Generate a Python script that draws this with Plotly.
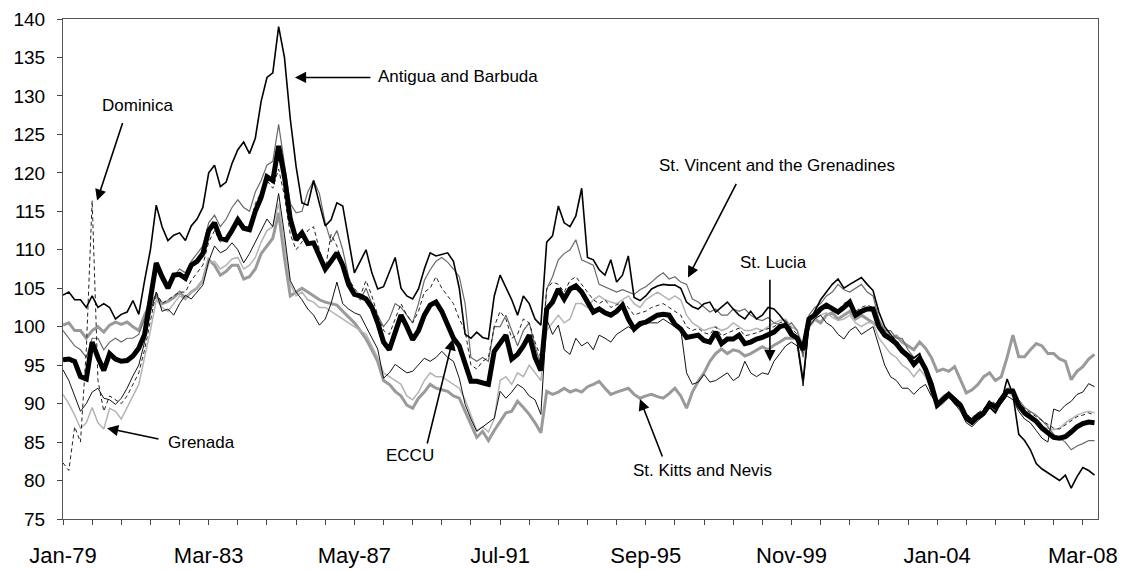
import plotly.graph_objects as go

# month offsets from Jan-79 (bimonthly observations)
months = list(range(0, 356, 2))
tick_months = [0, 50, 100, 150, 200, 250, 300, 350]
tick_labels = ["Jan-79", "Mar-83", "May-87", "Jul-91", "Sep-95", "Nov-99", "Jan-04", "Mar-08"]

eccu = [95.7, 95.8, 95.5, 93.5, 93.2, 98, 96, 94.3, 96.5, 95.8, 95.5, 95.6, 96.2, 97.2, 99, 104, 108.3, 106.5, 105, 106.7, 106.8, 106.3, 108, 108.5, 109.5,
        112.5, 113.5, 111.5, 111.3, 112.5, 113.9, 112.8, 112.6, 115, 116.8, 119.5, 119, 123.5, 119.5, 114, 111.3, 112.2, 110.8, 110.9, 109, 107.5, 108.5, 109.6, 108, 105.5,
        104.2, 104, 103.6, 102.5, 100.5, 98, 97, 99.5, 101.5, 100, 98.3, 99.5, 101.5, 102.8, 103.2, 102, 100.2, 98.5, 97.5, 95, 92.9, 92.9, 92.7, 92.5, 96.8,
        98, 98.9, 95.8, 96.4, 97.5, 98.9, 96, 94.3, 102.3, 103.2, 104.9, 103.6, 104.9, 105.3, 104.5, 103.2, 101.9, 102.3, 101.8, 101.5, 102, 102.8, 101, 99.7, 100.4,
        100.6, 101, 101.5, 101.6, 101.5, 100.3, 99.7, 98.6, 98.7, 98.9, 98.2, 98, 99.3, 97.8, 98.4, 98.4, 98.9, 97.8, 98, 98.4, 98.6, 99, 99.3, 100, 100.2,
        99, 98.5, 97, 101, 101.5, 102.3, 102.8, 102.3, 101.9, 102.5, 103.2, 101.5, 102, 102.3, 102.3, 100, 98.9, 98.4, 97.8, 96.8, 96.2, 95.1, 95.9, 94.5, 92.5,
        89.8, 90.6, 91.2, 90.5, 89.8, 88.2, 87.7, 88.4, 88.8, 90, 89.5, 90.5, 91.6, 91.6, 89.8, 88.8, 88.3, 87.7, 86.8, 86.2, 85.6, 85.5, 85.7, 86.3, 87,
        87.4, 87.6, 87.5]

antigua = [104.1, 104.5, 103.5, 103.5, 102.5, 104, 102.5, 103, 102.5, 101, 101.6, 101.9, 103.4, 101.6, 106, 110, 115.8, 113, 111.2, 111.9, 112.2, 111.2, 113.1, 114, 115.5,
           120, 121, 118.2, 118.8, 121.2, 123, 124, 122.5, 124.5, 129.3, 132.4, 133, 139, 135, 127, 120.8, 116.1, 115.8, 119, 116, 113.1, 113.9, 116.1, 115.7, 111.5,
           107, 108.5, 110, 107, 104.9, 105.2, 107, 109, 105, 104, 103.6, 104.9, 107.5, 109.6, 109.2, 109.4, 109.6, 108.5, 105, 99, 98.5, 99.3, 98.6, 98.4, 104,
           106.7, 105, 103.5, 101.5, 104, 103, 101, 100.2, 111, 111.8, 115.7, 113.5, 113, 114.4, 118, 109, 108.7, 107.4, 106.7, 108.7, 105.8, 106.7, 109.2, 103.8, 103.4,
           104, 104.9, 105.3, 105.5, 105.4, 105.4, 105, 103.2, 102.6, 102.3, 103, 103.2, 101.9, 102.5, 103.2, 102.3, 101.5, 101, 102, 101, 101.5, 102.5, 102.3, 101.5, 100.5,
           99.5, 98, 93, 100.5, 102, 103.5, 104.5, 105.5, 106.2, 105, 105.5, 106, 106.4, 105.5, 104.7, 101.9, 100, 99, 98, 97.1, 96.5, 95.9, 96.5, 94, 91.5,
           89.5, 90.5, 91, 90, 89.5, 87.8, 87.3, 88, 88.5, 89.5, 88.8, 90.2, 93.2, 91.2, 86, 85.2, 84, 82.2, 81.5, 81, 80.4, 80, 80.7, 79, 80.5,
           81.7, 81.3, 80.7]

dominica = [82.3, 81.3, 87, 85, 97, 116.4, 93, 89, 91, 90.5, 90, 91, 92.5, 94, 97, 101, 104.5, 103, 103.5, 104, 104.5, 104.5, 106, 107, 108,
            111, 112.5, 111, 111.5, 113, 114, 113, 113, 116, 117.5, 119, 118, 120.5, 117, 112, 110, 111, 112.5, 113, 110, 107.5, 112, 110.5, 108, 106.2,
            105, 104, 106, 104, 101.5, 99.5, 99, 101, 103, 101.5, 100.5, 102, 104.5, 105, 106.5, 105, 104, 103, 101, 99.5, 95, 94.5, 95.5, 96, 100,
            102, 101, 98.5, 99, 101, 100.5, 98, 96, 104.9, 105.8, 105.5, 104.5, 106, 106.5, 105.5, 104.5, 103.5, 103, 103.5, 102.5, 102.8, 103.2, 102.5, 101.5, 101.8,
            102, 102.5, 102.8, 103, 102.5, 102, 101.5, 100, 99.5, 99.8, 99.2, 99, 100, 98.8, 99.2, 99.5, 99.8, 98.8, 99, 99.2, 99.5, 99.8, 100, 100.5, 100.8,
            99.8, 99, 96.5, 101.2, 101.8, 102.5, 103, 102.5, 102.2, 103, 103.5, 102, 102.5, 102.8, 102.5, 100.5, 99.2, 98.8, 98, 97.2, 96.5, 95.5, 96, 94.8, 92.8,
            90, 90.8, 91.4, 90.8, 90.2, 88.6, 88.2, 88.8, 89.3, 90.4, 90, 91, 92, 92, 90.2, 89.3, 88.8, 88.3, 87.8, 87.3, 86.8, 86.7, 87.2, 87.8, 88.3,
            88.5, 88.8, 88.5]

grenada = [91.2, 90, 88.5, 86.8, 87.5, 89.5, 87.5, 86.7, 89.4, 89, 88, 89.5, 91, 92.5, 96, 99.5, 103.5, 102.5, 102, 103, 104, 103.5, 104.5, 105, 106,
           108.3, 108.5, 107.5, 108, 108.8, 109, 107.5, 108, 109, 111, 112.5, 113, 116, 111, 105.5, 104, 104.5, 103.5, 103.2, 102.5, 102.5, 102, 101.5, 101, 100.5,
           100, 99.5, 99, 97.5, 96, 94, 93.5, 93, 92.5, 91, 90.5, 91.5, 93, 94, 93.5, 93.5, 93, 92.5, 92, 90.5, 88.5, 86.5, 87, 86.3, 88,
           93, 93.5, 92.5, 94, 93.5, 95, 94, 93, 99.5, 100.5, 101.5, 100.5, 101, 103, 103, 102.5, 103.5, 104, 103.5, 103.2, 103, 103.5, 104, 103, 102.5,
           103.5, 104, 104.5, 104, 103.5, 104, 103.5, 101.5, 100.5, 100, 99.5, 99.8, 100, 99.5, 99.8, 100.5, 100, 99.5, 99.5, 99.8, 99.5, 100, 100.5, 100.8, 101,
           100, 99.5, 97.5, 100.5, 101, 101.5, 101.8, 101.2, 100.8, 101, 101.5, 100.5, 100, 100.5, 100.5, 98.5, 97.5, 96.5, 96, 95, 94.5, 93.5, 94.5, 93.5, 91.5,
           89.5, 90, 90.8, 90.2, 89.3, 88, 87.5, 88.2, 88.6, 89.8, 89.2, 90.3, 91.5, 91, 89.5, 88.5, 88, 87.5, 87, 86.8, 86.6, 86.8, 87.5, 88, 88.5,
           88.8, 89, 88.8]

st_kitts = [100.2, 100.5, 99.5, 99.5, 98.5, 99.5, 100, 99.3, 100.2, 100.6, 100.3, 100.6, 100, 99.5, 101.5, 103, 104, 103, 103.3, 103.8, 104.5, 103.7, 104.5, 105, 106,
            108.7, 108, 106.7, 107.2, 108, 108, 106.2, 106.5, 107.5, 109.5, 110.5, 111.5, 114.8, 109, 104, 104.5, 105, 104.5, 104, 103.5, 103.2, 103, 102.8, 102, 101.3,
            100.5, 99.5, 98.4, 97, 95.5, 93, 92.5, 91.6, 91, 89.8, 89.4, 90.7, 91.5, 92.5, 92, 91.8, 91.6, 91, 90.7, 89, 87.4, 85.6, 86.4, 85.2, 86.5,
            87.7, 88.8, 89, 90.3, 89.5, 88.6, 87.5, 86.2, 91.6, 91.2, 91.5, 92, 91.5, 91.8, 91.5, 92.2, 92.5, 92.9, 92, 91.2, 91.5, 91.8, 92, 91.2, 90.7,
            91, 91.2, 90.9, 90.7, 91.3, 92, 91, 89.4, 91.5, 92.9, 94, 95.5, 96.5, 97.1, 96.5, 97, 96.8, 96.2, 96.5, 97, 97.4, 97, 97.6, 98, 98.5,
            98.5, 98.5, 97.5, 100, 101, 100.5, 101.5, 101.8, 101, 101.5, 102, 101, 101.5, 101, 100.5, 100, 99.5, 98.5, 98.8, 98, 97.5, 97, 98, 97.2, 96,
            94.2, 94.5, 94.2, 94.8, 93, 91.4, 91.8, 92.5, 93.5, 94, 93, 93.5, 96, 98.9, 96.1, 96.1, 97, 97.8, 97.5, 96.5, 96.5, 95.8, 95.5, 93.1, 94.2,
            94.8, 95.8, 96.4]

st_lucia = [94.4, 93, 91, 89, 90, 91.5, 92, 90.7, 90.5, 89.9, 90.7, 92, 93.6, 95, 98, 101.9, 104.5, 102, 102.3, 101.5, 103, 104.1, 103.6, 104.5, 105.4,
            108.5, 110.5, 109.6, 110, 110.9, 110, 108.3, 109.5, 111, 112.5, 114, 113, 117.3, 112, 106, 104.5, 103.5, 102.3, 101.5, 100.2, 101, 103, 105.8, 103, 102.3,
            101.8, 101.5, 100, 98.5, 97.1, 93.3, 94, 95.1, 94.5, 94, 94.2, 95, 95.9, 95.5, 96, 96.8, 96, 95.5, 93.3, 89.9, 88, 86.4, 87, 87.5, 88.1,
            91.6, 90.7, 91.5, 92.5, 92, 91, 90.5, 88.6, 101, 99, 100.2, 97, 96.4, 98.5, 97.5, 98, 97, 98.9, 98.5, 98, 99, 99.5, 100, 99.5, 100,
            100.5, 100.5, 100.5, 101, 100.5, 100, 99.7, 94, 92.5, 92.8, 93.8, 92.8, 93, 93.5, 94, 93, 93.5, 95.5, 94, 93.5, 94, 93.8, 95.5, 96.5, 97.5,
            98, 97.5, 92.3, 100, 101, 101.5, 100.5, 100, 99, 98.4, 99.5, 100, 99, 99.5, 100, 97.5, 95, 93.5, 93, 92, 92, 91.2, 92, 92.5, 91,
            90, 90.3, 90.8, 90, 89, 87.5, 87, 87.8, 88.4, 89.5, 89, 90, 91, 90.5, 89, 88, 87.5, 86.5, 85.5, 85, 89.3, 89, 89.8, 90.3, 91.2,
            91.5, 92.6, 92.2]

st_vincent = [99.5, 98.5, 97.5, 97, 96, 98.5, 98.5, 97, 98, 98.5, 98, 98.5, 98.5, 99, 101, 104.5, 107.5, 106, 105.5, 106.5, 107.5, 107, 108.5, 109.5, 110.5,
              113.5, 114.5, 113, 114, 115.5, 116.5, 115.5, 115, 117.5, 119, 121, 121.5, 126.3, 121, 116, 114.8, 115, 117.5, 119, 117.3, 113.5, 111, 112.5, 110, 106.5,
              104.5, 103.5, 105, 103, 101.5, 100, 101, 103, 102.5, 101.5, 100.5, 103, 106, 107.4, 108.5, 109, 108.4, 107.5, 106.5, 103, 96, 95.5, 96, 95.5, 100,
              100, 101.5, 99.5, 97.5, 99.5, 100.5, 97.5, 95, 104.9, 106.5, 108.7, 109.5, 110, 111.3, 108.7, 108.3, 108, 105.5, 105.2, 104.9, 104.5, 104.8, 104.5, 104.2, 104.8,
              105.2, 105.8, 106.5, 107, 106.2, 106.5, 105.8, 105.5, 103.6, 103.2, 102.5, 101.9, 102.3, 101.5, 101.5, 102.3, 102, 102.3, 101.5, 101, 100.8, 101.2, 100.5, 100.2, 100,
              100.5, 99.5, 96, 101.5, 102.5, 103, 104, 104.5, 105.5, 104.8, 104.5, 105, 105.5, 104.5, 104, 101, 99.5, 99.5, 98.5, 98.5, 97, 96, 96.5, 94.5, 92.5,
              90.2, 91, 91.5, 90.8, 90, 88.5, 88, 88.8, 89, 90.2, 89.8, 91, 91.8, 91.8, 90.5, 89.5, 89, 88.5, 87.8, 87, 86, 85.5, 85, 84, 84.5,
              84.8, 85.2, 85.2]

series = [
    ("St. Kitts and Nevis", st_kitts, dict(color="#9a9a9a", width=3)),
    ("Grenada", grenada, dict(color="#b4b4b4", width=1.5)),
    ("St. Vincent and the Grenadines", st_vincent, dict(color="#6a6a6a", width=1.2)),
    ("Dominica", dominica, dict(color="#222222", width=1, dash="4px,3px")),
    ("St. Lucia", st_lucia, dict(color="#111111", width=1)),
    ("Antigua and Barbuda", antigua, dict(color="#000000", width=1.6)),
    ("ECCU", eccu, dict(color="#000000", width=5)),
]

fig = go.Figure()
for name, vals, line in series:
    fig.add_trace(go.Scatter(x=months, y=vals, mode="lines", name=name, line=line,
                             showlegend=False))

FONT = "Liberation Sans, Arial, sans-serif"

def arrow(x, y, ax, ay):
    fig.add_annotation(x=x, y=y, ax=ax, ay=ay, text="", showarrow=True,
                       arrowhead=2, arrowsize=1.4, arrowwidth=1.6, arrowcolor="black")

def label(x, y, text, anchor="center"):
    fig.add_annotation(x=x, y=y, text=text, showarrow=False, xanchor=anchor,
                       font=dict(family=FONT, size=17, color="black"))

arrow(11.7, 116.4, 26, -79)
label(25.7, 128.7, "Dominica")
arrow(79.6, 132.4, 77, 0)
label(107.5, 132.5, "Antigua and Barbuda", "left")
arrow(15.1, 86.8, 53, 11)
label(35.5, 84.9, "Grenada", "left")
arrow(133.8, 98.4, -26, 106)
label(119.1, 83.2, "ECCU")
arrow(198.0, 90.6, 23, 59)
label(219.3, 81.3, "St. Kitts and Nevis")
arrow(214.5, 106.4, 49, -95)
label(203.8, 121.0, "St. Vincent and the Grenadines", "left")
arrow(242.6, 95.5, 0, -83)
label(244.0, 108.3, "St. Lucia")

# the page body has an 8px default margin, so the figure is sized to fit inside it
fig.update_layout(
    width=1123, height=563,
    margin=dict(l=55, r=33, t=11, b=52, autoexpand=False),
    paper_bgcolor="white", plot_bgcolor="white",
    font=dict(family=FONT, size=20, color="black"),
    showlegend=False,
)
fig.update_xaxes(range=[0, 355.2], tickmode="array", tickvals=tick_months, ticktext=tick_labels,
                 ticks="outside", ticklen=5, tickcolor="#444", showgrid=False, zeroline=False,
                 showline=True, linecolor="#555", linewidth=1, mirror=True, automargin=False,
                 ticklabelstandoff=12, ticklabeloverflow="allow",
                 tickfont=dict(family=FONT, size=22),
                 minor=dict(tickmode="linear", tick0=0, dtick=10, ticks="outside", ticklen=5,
                            tickcolor="#444", showgrid=False))
fig.update_yaxes(range=[75, 140], dtick=5, tick0=75, ticks="outside", ticklen=5, tickcolor="#444",
                 showgrid=False, zeroline=False, showline=True, linecolor="#555", linewidth=1,
                 mirror=True, automargin=False, ticklabelstandoff=8, ticklabeloverflow="allow",
                 tickfont=dict(family=FONT, size=19))

fig.write_html("out.html")
